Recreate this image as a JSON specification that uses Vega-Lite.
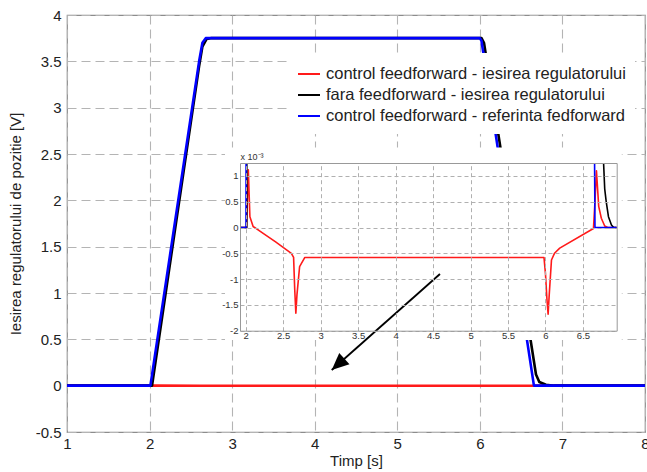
{
  "$schema": "https://vega.github.io/schema/vega-lite/v6.json",
  "width": 578,
  "height": 417,
  "autosize": {"type": "none"},
  "padding": {"left": 67, "top": 15, "right": 2, "bottom": 40},
  "background": "white",
  "config": {
    "font": "Liberation Sans",
    "view": {"stroke": "#8c8c8c", "strokeWidth": 1.2}
  },
  "datasets": {
    "main": [
      {"t": 1, "v": 0, "s": "control feedforward - iesirea regulatorului"},
      {"t": 2.02, "v": 0, "s": "control feedforward - iesirea regulatorului"},
      {"t": 2.036, "v": 0.0011, "s": "control feedforward - iesirea regulatorului"},
      {"t": 2.1, "v": 0, "s": "control feedforward - iesirea regulatorului"},
      {"t": 2.61, "v": -0.0005, "s": "control feedforward - iesirea regulatorului"},
      {"t": 2.67, "v": -0.00166, "s": "control feedforward - iesirea regulatorului"},
      {"t": 2.79, "v": -0.00058, "s": "control feedforward - iesirea regulatorului"},
      {"t": 5.98, "v": -0.00058, "s": "control feedforward - iesirea regulatorului"},
      {"t": 6.035, "v": -0.00166, "s": "control feedforward - iesirea regulatorului"},
      {"t": 6.12, "v": -0.0005, "s": "control feedforward - iesirea regulatorului"},
      {"t": 6.64, "v": 0, "s": "control feedforward - iesirea regulatorului"},
      {"t": 6.68, "v": 0.0011, "s": "control feedforward - iesirea regulatorului"},
      {"t": 6.8, "v": 0, "s": "control feedforward - iesirea regulatorului"},
      {"t": 8, "v": 0, "s": "control feedforward - iesirea regulatorului"},
      {"t": 1, "v": 0, "s": "fara feedforward - iesirea regulatorului"},
      {"t": 2.03, "v": 0, "s": "fara feedforward - iesirea regulatorului"},
      {"t": 2.6, "v": 3.45, "s": "fara feedforward - iesirea regulatorului"},
      {"t": 2.64, "v": 3.66, "s": "fara feedforward - iesirea regulatorului"},
      {"t": 2.69, "v": 3.74, "s": "fara feedforward - iesirea regulatorului"},
      {"t": 2.74, "v": 3.75, "s": "fara feedforward - iesirea regulatorului"},
      {"t": 6.02, "v": 3.75, "s": "fara feedforward - iesirea regulatorului"},
      {"t": 6.05, "v": 3.7, "s": "fara feedforward - iesirea regulatorului"},
      {"t": 6.68, "v": 0.12, "s": "fara feedforward - iesirea regulatorului"},
      {"t": 6.72, "v": 0.04, "s": "fara feedforward - iesirea regulatorului"},
      {"t": 6.8, "v": 0.01, "s": "fara feedforward - iesirea regulatorului"},
      {"t": 6.9, "v": 0, "s": "fara feedforward - iesirea regulatorului"},
      {"t": 8, "v": 0, "s": "fara feedforward - iesirea regulatorului"},
      {"t": 1, "v": 0, "s": "control feedforward - referinta fedforward"},
      {"t": 2.01, "v": 0, "s": "control feedforward - referinta fedforward"},
      {"t": 2.6, "v": 3.5, "s": "control feedforward - referinta fedforward"},
      {"t": 2.64, "v": 3.7, "s": "control feedforward - referinta fedforward"},
      {"t": 2.68, "v": 3.75, "s": "control feedforward - referinta fedforward"},
      {"t": 6.0, "v": 3.75, "s": "control feedforward - referinta fedforward"},
      {"t": 6.02, "v": 3.72, "s": "control feedforward - referinta fedforward"},
      {"t": 6.655, "v": 0, "s": "control feedforward - referinta fedforward"},
      {"t": 8, "v": 0, "s": "control feedforward - referinta fedforward"}
    ],
    "inset": [
      {"t": 1.925, "v": 0, "s": "control feedforward - iesirea regulatorului", "seg": "r"},
      {"t": 2.012, "v": 0, "s": "control feedforward - iesirea regulatorului", "seg": "r"},
      {"t": 2.036, "v": 1.12, "s": "control feedforward - iesirea regulatorului", "seg": "r"},
      {"t": 2.057, "v": 0.21, "s": "control feedforward - iesirea regulatorului", "seg": "r"},
      {"t": 2.1, "v": 0.02, "s": "control feedforward - iesirea regulatorului", "seg": "r"},
      {"t": 2.2, "v": -0.08, "s": "control feedforward - iesirea regulatorului", "seg": "r"},
      {"t": 2.4, "v": -0.28, "s": "control feedforward - iesirea regulatorului", "seg": "r"},
      {"t": 2.61, "v": -0.5, "s": "control feedforward - iesirea regulatorului", "seg": "r"},
      {"t": 2.64, "v": -0.58, "s": "control feedforward - iesirea regulatorului", "seg": "r"},
      {"t": 2.655, "v": -1.2, "s": "control feedforward - iesirea regulatorului", "seg": "r"},
      {"t": 2.67, "v": -1.66, "s": "control feedforward - iesirea regulatorului", "seg": "r"},
      {"t": 2.685, "v": -1.3, "s": "control feedforward - iesirea regulatorului", "seg": "r"},
      {"t": 2.72, "v": -0.76, "s": "control feedforward - iesirea regulatorului", "seg": "r"},
      {"t": 2.79, "v": -0.58, "s": "control feedforward - iesirea regulatorului", "seg": "r"},
      {"t": 5.98, "v": -0.58, "s": "control feedforward - iesirea regulatorului", "seg": "r"},
      {"t": 6.0, "v": -0.9, "s": "control feedforward - iesirea regulatorului", "seg": "r"},
      {"t": 6.02, "v": -1.4, "s": "control feedforward - iesirea regulatorului", "seg": "r"},
      {"t": 6.035, "v": -1.68, "s": "control feedforward - iesirea regulatorului", "seg": "r"},
      {"t": 6.05, "v": -1.3, "s": "control feedforward - iesirea regulatorului", "seg": "r"},
      {"t": 6.08, "v": -0.63, "s": "control feedforward - iesirea regulatorului", "seg": "r"},
      {"t": 6.12, "v": -0.5, "s": "control feedforward - iesirea regulatorului", "seg": "r"},
      {"t": 6.19, "v": -0.4, "s": "control feedforward - iesirea regulatorului", "seg": "r"},
      {"t": 6.64, "v": -0.02, "s": "control feedforward - iesirea regulatorului", "seg": "r"},
      {"t": 6.66, "v": 0.5, "s": "control feedforward - iesirea regulatorului", "seg": "r"},
      {"t": 6.68, "v": 1.1, "s": "control feedforward - iesirea regulatorului", "seg": "r"},
      {"t": 6.71, "v": 0.41, "s": "control feedforward - iesirea regulatorului", "seg": "r"},
      {"t": 6.745, "v": 0.18, "s": "control feedforward - iesirea regulatorului", "seg": "r"},
      {"t": 6.79, "v": 0.03, "s": "control feedforward - iesirea regulatorului", "seg": "r"},
      {"t": 6.83, "v": 0, "s": "control feedforward - iesirea regulatorului", "seg": "r"},
      {"t": 6.95, "v": 0, "s": "control feedforward - iesirea regulatorului", "seg": "r"},
      {"t": 1.925, "v": 0, "s": "fara feedforward - iesirea regulatorului", "seg": "k1"},
      {"t": 2.015, "v": 0, "s": "fara feedforward - iesirea regulatorului", "seg": "k1"},
      {"t": 2.016, "v": 1.25, "s": "fara feedforward - iesirea regulatorului", "seg": "k1"},
      {"t": 6.775, "v": 1.25, "s": "fara feedforward - iesirea regulatorului", "seg": "k2"},
      {"t": 6.79, "v": 0.75, "s": "fara feedforward - iesirea regulatorului", "seg": "k2"},
      {"t": 6.81, "v": 0.5, "s": "fara feedforward - iesirea regulatorului", "seg": "k2"},
      {"t": 6.84, "v": 0.21, "s": "fara feedforward - iesirea regulatorului", "seg": "k2"},
      {"t": 6.88, "v": 0.05, "s": "fara feedforward - iesirea regulatorului", "seg": "k2"},
      {"t": 6.91, "v": 0, "s": "fara feedforward - iesirea regulatorului", "seg": "k2"},
      {"t": 6.95, "v": 0, "s": "fara feedforward - iesirea regulatorului", "seg": "k2"},
      {"t": 1.925, "v": 0, "s": "control feedforward - referinta fedforward", "seg": "b1"},
      {"t": 2.005, "v": 0, "s": "control feedforward - referinta fedforward", "seg": "b1"},
      {"t": 2.006, "v": 1.25, "s": "control feedforward - referinta fedforward", "seg": "b1"},
      {"t": 6.655, "v": 1.25, "s": "control feedforward - referinta fedforward", "seg": "b2"},
      {"t": 6.66, "v": 0, "s": "control feedforward - referinta fedforward", "seg": "b2"},
      {"t": 6.95, "v": 0, "s": "control feedforward - referinta fedforward", "seg": "b2"}
    ],
    "insetbg": [{"x": 1.725, "x2": 7.018, "y": -2.18, "y2": 1.55}],
    "arrow": [{"x": 5.517, "y": 1.205, "x2": 4.206, "y2": 0.169}]
  },
  "resolve": {"scale": {"x": "independent", "y": "independent"}},
  "layer": [
    {
      "data": {"name": "main"},
      "mark": {"type": "line", "strokeWidth": 2.6, "strokeJoin": "round"},
      "encoding": {
        "x": {
          "field": "t", "type": "quantitative",
          "scale": {"domain": [1, 8], "nice": false, "zero": false},
          "axis": {
            "values": [1, 2, 3, 4, 5, 6, 7, 8], "title": "Timp [s]",
            "grid": true, "gridDash": [9, 5], "gridColor": "#b4b4b4", "gridWidth": 1.1,
            "domain": false, "ticks": false, "labelFlush": false, "labelOverlap": false,
            "labelFontSize": 15, "labelColor": "#222", "labelPadding": 4,
            "titleFontSize": 15, "titleFontWeight": "normal", "titleColor": "#222", "titlePadding": 2
          }
        },
        "y": {
          "field": "v", "type": "quantitative",
          "scale": {"domain": [-0.5, 4], "nice": false, "zero": false},
          "axis": {
            "values": [-0.5, 0, 0.5, 1, 1.5, 2, 2.5, 3, 3.5, 4],
            "labelExpr": "datum.value + ''",
            "title": "Iesirea regulatorului de pozitie [V]",
            "grid": true, "gridDash": [9, 5], "gridColor": "#b4b4b4", "gridWidth": 1.1,
            "domain": false, "ticks": false, "labelFlush": false, "labelOverlap": false,
            "labelFontSize": 15, "labelColor": "#222", "labelPadding": 6,
            "titleFontSize": 15, "titleFontWeight": "normal", "titleColor": "#222",
            "titleX": -52, "titleBaseline": "middle"
          }
        },
        "color": {
          "field": "s", "type": "nominal",
          "scale": {
            "domain": ["control feedforward - iesirea regulatorului", "fara feedforward - iesirea regulatorului", "control feedforward - referinta fedforward"],
            "range": ["#ff1a1a", "#000000", "#0000ff"]
          },
          "legend": {
            "orient": "none", "legendX": 221, "legendY": 38, "title": null,
            "fillColor": "white", "padding": 9, "symbolType": "stroke",
            "symbolSize": 484, "symbolStrokeWidth": 2, "labelFontSize": 16.5,
            "labelColor": "#222", "labelLimit": 430, "rowPadding": 0, "labelOffset": 5
          }
        }
      }
    },
    {
      "resolve": {"axis": {"x": "independent", "y": "independent"}},
      "layer": [
        {
          "data": {"name": "insetbg"},
          "mark": {"type": "rect", "fill": "white"},
          "encoding": {
            "x": {
              "field": "x", "type": "quantitative",
              "scale": {"domain": [1.925, 6.95], "range": [173, 549.7], "nice": false, "zero": false},
              "axis": {
                "orient": "top", "offset": -148,
                "values": [2, 2.5, 3, 3.5, 4, 4.5, 5, 5.5, 6, 6.5],
                "grid": true, "gridDash": [4, 3], "gridColor": "#b0b0b0",
                "labels": false, "ticks": false, "domain": true, "domainColor": "#999",
                "title": null, "zindex": 1
              }
            },
            "x2": {"field": "x2"},
            "y": {
              "field": "y", "type": "quantitative",
              "scale": {"domain": [-2, 1.25], "range": [315.7, 148], "nice": false, "zero": false},
              "axis": {
                "orient": "left", "offset": -173,
                "values": [-2, -1.5, -1, -0.5, 0, 0.5, 1],
                "labelExpr": "datum.value + ''",
                "grid": true, "gridDash": [4, 3], "gridColor": "#b0b0b0",
                "domain": true, "domainColor": "#999", "ticks": false,
                "labelFontSize": 9.5, "labelColor": "#333", "labelPadding": 2,
                "labelFlush": false, "labelOverlap": false,
                "title": "x 10⁻³", "titleAngle": 0, "titleAlign": "left",
                "titleBaseline": "bottom", "titleX": 0, "titleY": 146,
                "titleFontSize": 9, "titleFontWeight": "normal", "titleColor": "#333",
                "zindex": 1
              }
            },
            "y2": {"field": "y2"}
          }
        },
        {
          "data": {"name": "inset"},
          "mark": {"type": "line", "strokeWidth": 1.6, "strokeJoin": "round"},
          "encoding": {
            "x": {
              "field": "t", "type": "quantitative",
              "scale": {"domain": [1.925, 6.95], "range": [173, 549.7], "nice": false, "zero": false},
              "axis": {
                "orient": "bottom", "offset": -101.3,
                "values": [2, 2.5, 3, 3.5, 4, 4.5, 5, 5.5, 6, 6.5],
                "labelExpr": "datum.value + ''",
                "grid": false, "domain": true, "domainColor": "#999", "ticks": false,
                "labelFontSize": 9.5, "labelColor": "#333", "labelPadding": 0,
                "labelFlush": false, "labelOverlap": false,
                "title": null, "zindex": 1
              }
            },
            "y": {
              "field": "v", "type": "quantitative",
              "scale": {"domain": [-2, 1.25], "range": [315.7, 148], "nice": false, "zero": false},
              "axis": {
                "orient": "right", "offset": -28.3,
                "grid": false, "domain": true, "domainColor": "#999",
                "ticks": false, "labels": false, "title": null, "zindex": 1
              }
            },
            "color": {"field": "s", "type": "nominal"},
            "detail": {"field": "seg"}
          }
        }
      ]
    },
    {
      "data": {"name": "arrow"},
      "layer": [
        {
          "mark": {"type": "rule", "strokeWidth": 1.8, "color": "black"},
          "encoding": {
            "x": {"field": "x", "type": "quantitative", "scale": {"domain": [1, 8], "nice": false, "zero": false}, "axis": null},
            "y": {"field": "y", "type": "quantitative", "scale": {"domain": [-0.5, 4], "nice": false, "zero": false}, "axis": null},
            "x2": {"field": "x2"},
            "y2": {"field": "y2"}
          }
        },
        {
          "mark": {"type": "point", "shape": "M0,0L-0.45,1L0.45,1Z", "filled": true, "color": "black", "opacity": 1, "size": 1156, "angle": 228},
          "encoding": {
            "x": {"field": "x2", "type": "quantitative", "scale": {"domain": [1, 8], "nice": false, "zero": false}, "axis": null},
            "y": {"field": "y2", "type": "quantitative", "scale": {"domain": [-0.5, 4], "nice": false, "zero": false}, "axis": null}
          }
        }
      ]
    }
  ]
}
